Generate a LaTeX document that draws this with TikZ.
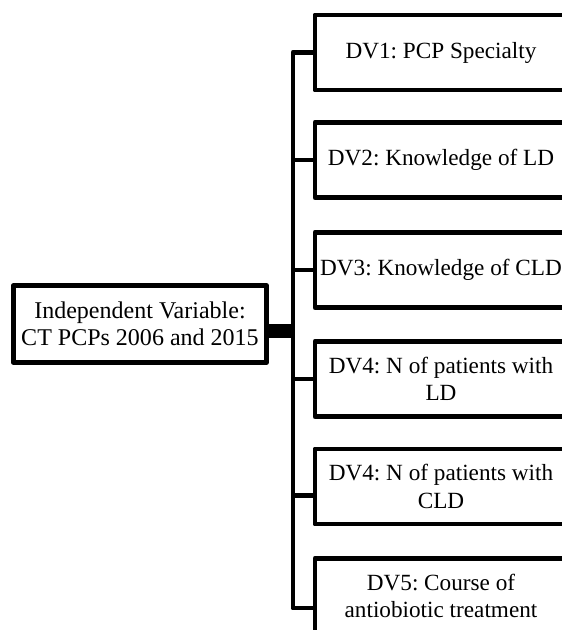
\documentclass[tikz,border=0pt]{standalone}
\usepackage{fontspec}
\setmainfont{Liberation Serif}
\usetikzlibrary{calc}
\frenchspacing

\begin{document}
\begin{tikzpicture}[x=0.03cm,y=-0.03cm]

\tikzset{dvbox/.style = {shape=rectangle,draw,line width=4.2pt,line join=round,minimum width=7.56cm,minimum height=2.25cm,align=center,inner sep=0pt,font=\fontsize{19.8}{23.5}\selectfont}}
\tikzset{link/.style = {line width=4.2pt,line join=round}}
\useasboundingbox (0,0) rectangle (562,630);
\clip (0,0) rectangle (562,630);

\node[dvbox,minimum width=7.6cm,minimum height=2.3cm,font=\fontsize{20.5}{23.5}\selectfont] (iv) at (140,324) {Independent Variable:\\CT PCPs 2006 and 2015};

\foreach \y/\name/\text in {52.5/dv1/{DV1: PCP Specialty}, 160/dv2/{DV2: Knowledge of LD}, 270/dv3/{DV3: Knowledge of CLD}, 379/dv4/{DV4: N of patients with\\LD}, 486.5/dv5/{DV4: N of patients with\\CLD}, 596/dv6/{DV5: Course of\\antiobiotic treatment}}
\node[dvbox] (\name) at (441,\y) {\text};

\coordinate (trunk) at (293,0);
\coordinate (c5) at ($(dv5.west)+(0,9)$);
\coordinate (c6) at ($(dv6.west)+(0,12)$);
\coordinate (ivout) at ($(iv.east)+(0,7)$);

\draw[link] (dv1.west) -| (trunk |- c6) -- (c6);
\foreach \name in {dv2,dv3,dv4}
\draw[link] (trunk |- \name.west) -- (\name.west);
\draw[link] (trunk |- c5) -- (c5);

\draw[line width=12pt] (ivout) -- (trunk |- ivout);
\end{tikzpicture}
\end{document}
